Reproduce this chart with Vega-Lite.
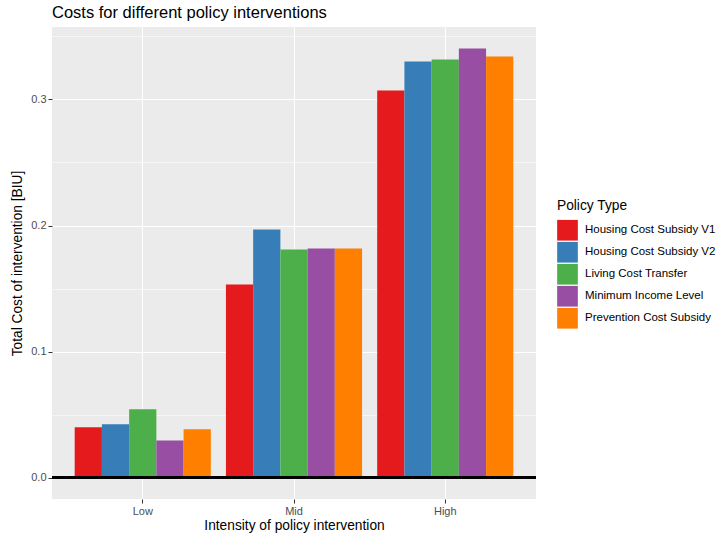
{
  "$schema": "https://vega.github.io/schema/vega-lite/v6.json",
  "autosize": {"type": "none"},
  "padding": {"left": 52, "top": 27, "right": 182, "bottom": 39},
  "width": 484,
  "height": 472,
  "background": "white",
  "title": {"text": "Costs for different policy interventions", "anchor": "start", "frame": "group", "fontSize": 16.5, "fontWeight": "normal", "font": "Liberation Sans", "color": "black", "offset": 6},
  "config": {
    "view": {"fill": "#EBEBEB", "stroke": null},
    "font": "Liberation Sans",
    "axis": {"domain": false, "gridColor": "white", "labelColor": "#4D4D4D", "labelFontSize": 11, "tickColor": "#333333", "tickSize": 4, "labelPadding": 2, "titleFontSize": 13.75, "titleFontWeight": "normal", "titleColor": "black"}
  },
  "data": {"values": [
    {"intensity": "Low", "policy": "Housing Cost Subsidy V1", "cost": 0.0399},
    {"intensity": "Low", "policy": "Housing Cost Subsidy V2", "cost": 0.0423},
    {"intensity": "Low", "policy": "Living Cost Transfer", "cost": 0.0542},
    {"intensity": "Low", "policy": "Minimum Income Level", "cost": 0.0294},
    {"intensity": "Low", "policy": "Prevention Cost Subsidy", "cost": 0.0383},
    {"intensity": "Mid", "policy": "Housing Cost Subsidy V1", "cost": 0.1532},
    {"intensity": "Mid", "policy": "Housing Cost Subsidy V2", "cost": 0.1968},
    {"intensity": "Mid", "policy": "Living Cost Transfer", "cost": 0.181},
    {"intensity": "Mid", "policy": "Minimum Income Level", "cost": 0.1817},
    {"intensity": "Mid", "policy": "Prevention Cost Subsidy", "cost": 0.1817},
    {"intensity": "High", "policy": "Housing Cost Subsidy V1", "cost": 0.3071},
    {"intensity": "High", "policy": "Housing Cost Subsidy V2", "cost": 0.3302},
    {"intensity": "High", "policy": "Living Cost Transfer", "cost": 0.3317},
    {"intensity": "High", "policy": "Minimum Income Level", "cost": 0.3405},
    {"intensity": "High", "policy": "Prevention Cost Subsidy", "cost": 0.3341}
  ]},
  "layer": [
    {
      "mark": {"type": "bar"},
      "encoding": {
        "x": {"field": "intensity", "type": "nominal", "sort": ["Low", "Mid", "High"],
              "scale": {"paddingInner": 0.1, "paddingOuter": 0.15},
              "axis": {"title": "Intensity of policy intervention", "labelAngle": 0, "bandPosition": 0.5, "gridWidth": 1.1, "grid": true, "titlePadding": 2}},
        "xOffset": {"field": "policy", "type": "nominal", "scale": {"paddingInner": 0, "paddingOuter": 0}},
        "y": {"field": "cost", "type": "quantitative",
              "scale": {"domain": [-0.017, 0.3575], "nice": false, "zero": false},
              "axis": {"title": "Total Cost of intervention [BIU]",
                       "values": [0, 0.05, 0.1, 0.15, 0.2, 0.25, 0.3, 0.35],
                       "labelExpr": "abs(datum.value*10 - round(datum.value*10)) > 0.01 ? '' : format(datum.value, '.1f')",
                       "tickOpacity": {"condition": {"test": "abs(datum.value*10 - round(datum.value*10)) > 0.01", "value": 0}, "value": 1},
                       "gridWidth": {"condition": {"test": "abs(datum.value*10 - round(datum.value*10)) > 0.01", "value": 0.55}, "value": 1.1},
                       "titlePadding": 6}},
        "color": {"field": "policy", "type": "nominal",
                  "scale": {"domain": ["Housing Cost Subsidy V1", "Housing Cost Subsidy V2", "Living Cost Transfer", "Minimum Income Level", "Prevention Cost Subsidy"],
                            "range": ["#E41A1C", "#377EB8", "#4DAF4A", "#984EA3", "#FF7F00"]},
                  "legend": {"title": "Policy Type", "orient": "none", "legendX": 505, "legendY": 172, "padding": 0,
                             "titleFontSize": 13.75, "titleFontWeight": "normal", "titleColor": "black", "titlePadding": 7,
                             "labelFontSize": 11.5, "labelColor": "black", "labelOffset": 7,
                             "symbolType": "square", "symbolSize": 428, "symbolStrokeWidth": 0, "symbolOpacity": 1, "rowPadding": 1}}
      }
    },
    {
      "mark": {"type": "rule", "color": "black", "strokeWidth": 2.3},
      "encoding": {"y": {"datum": 0}}
    }
  ]
}
